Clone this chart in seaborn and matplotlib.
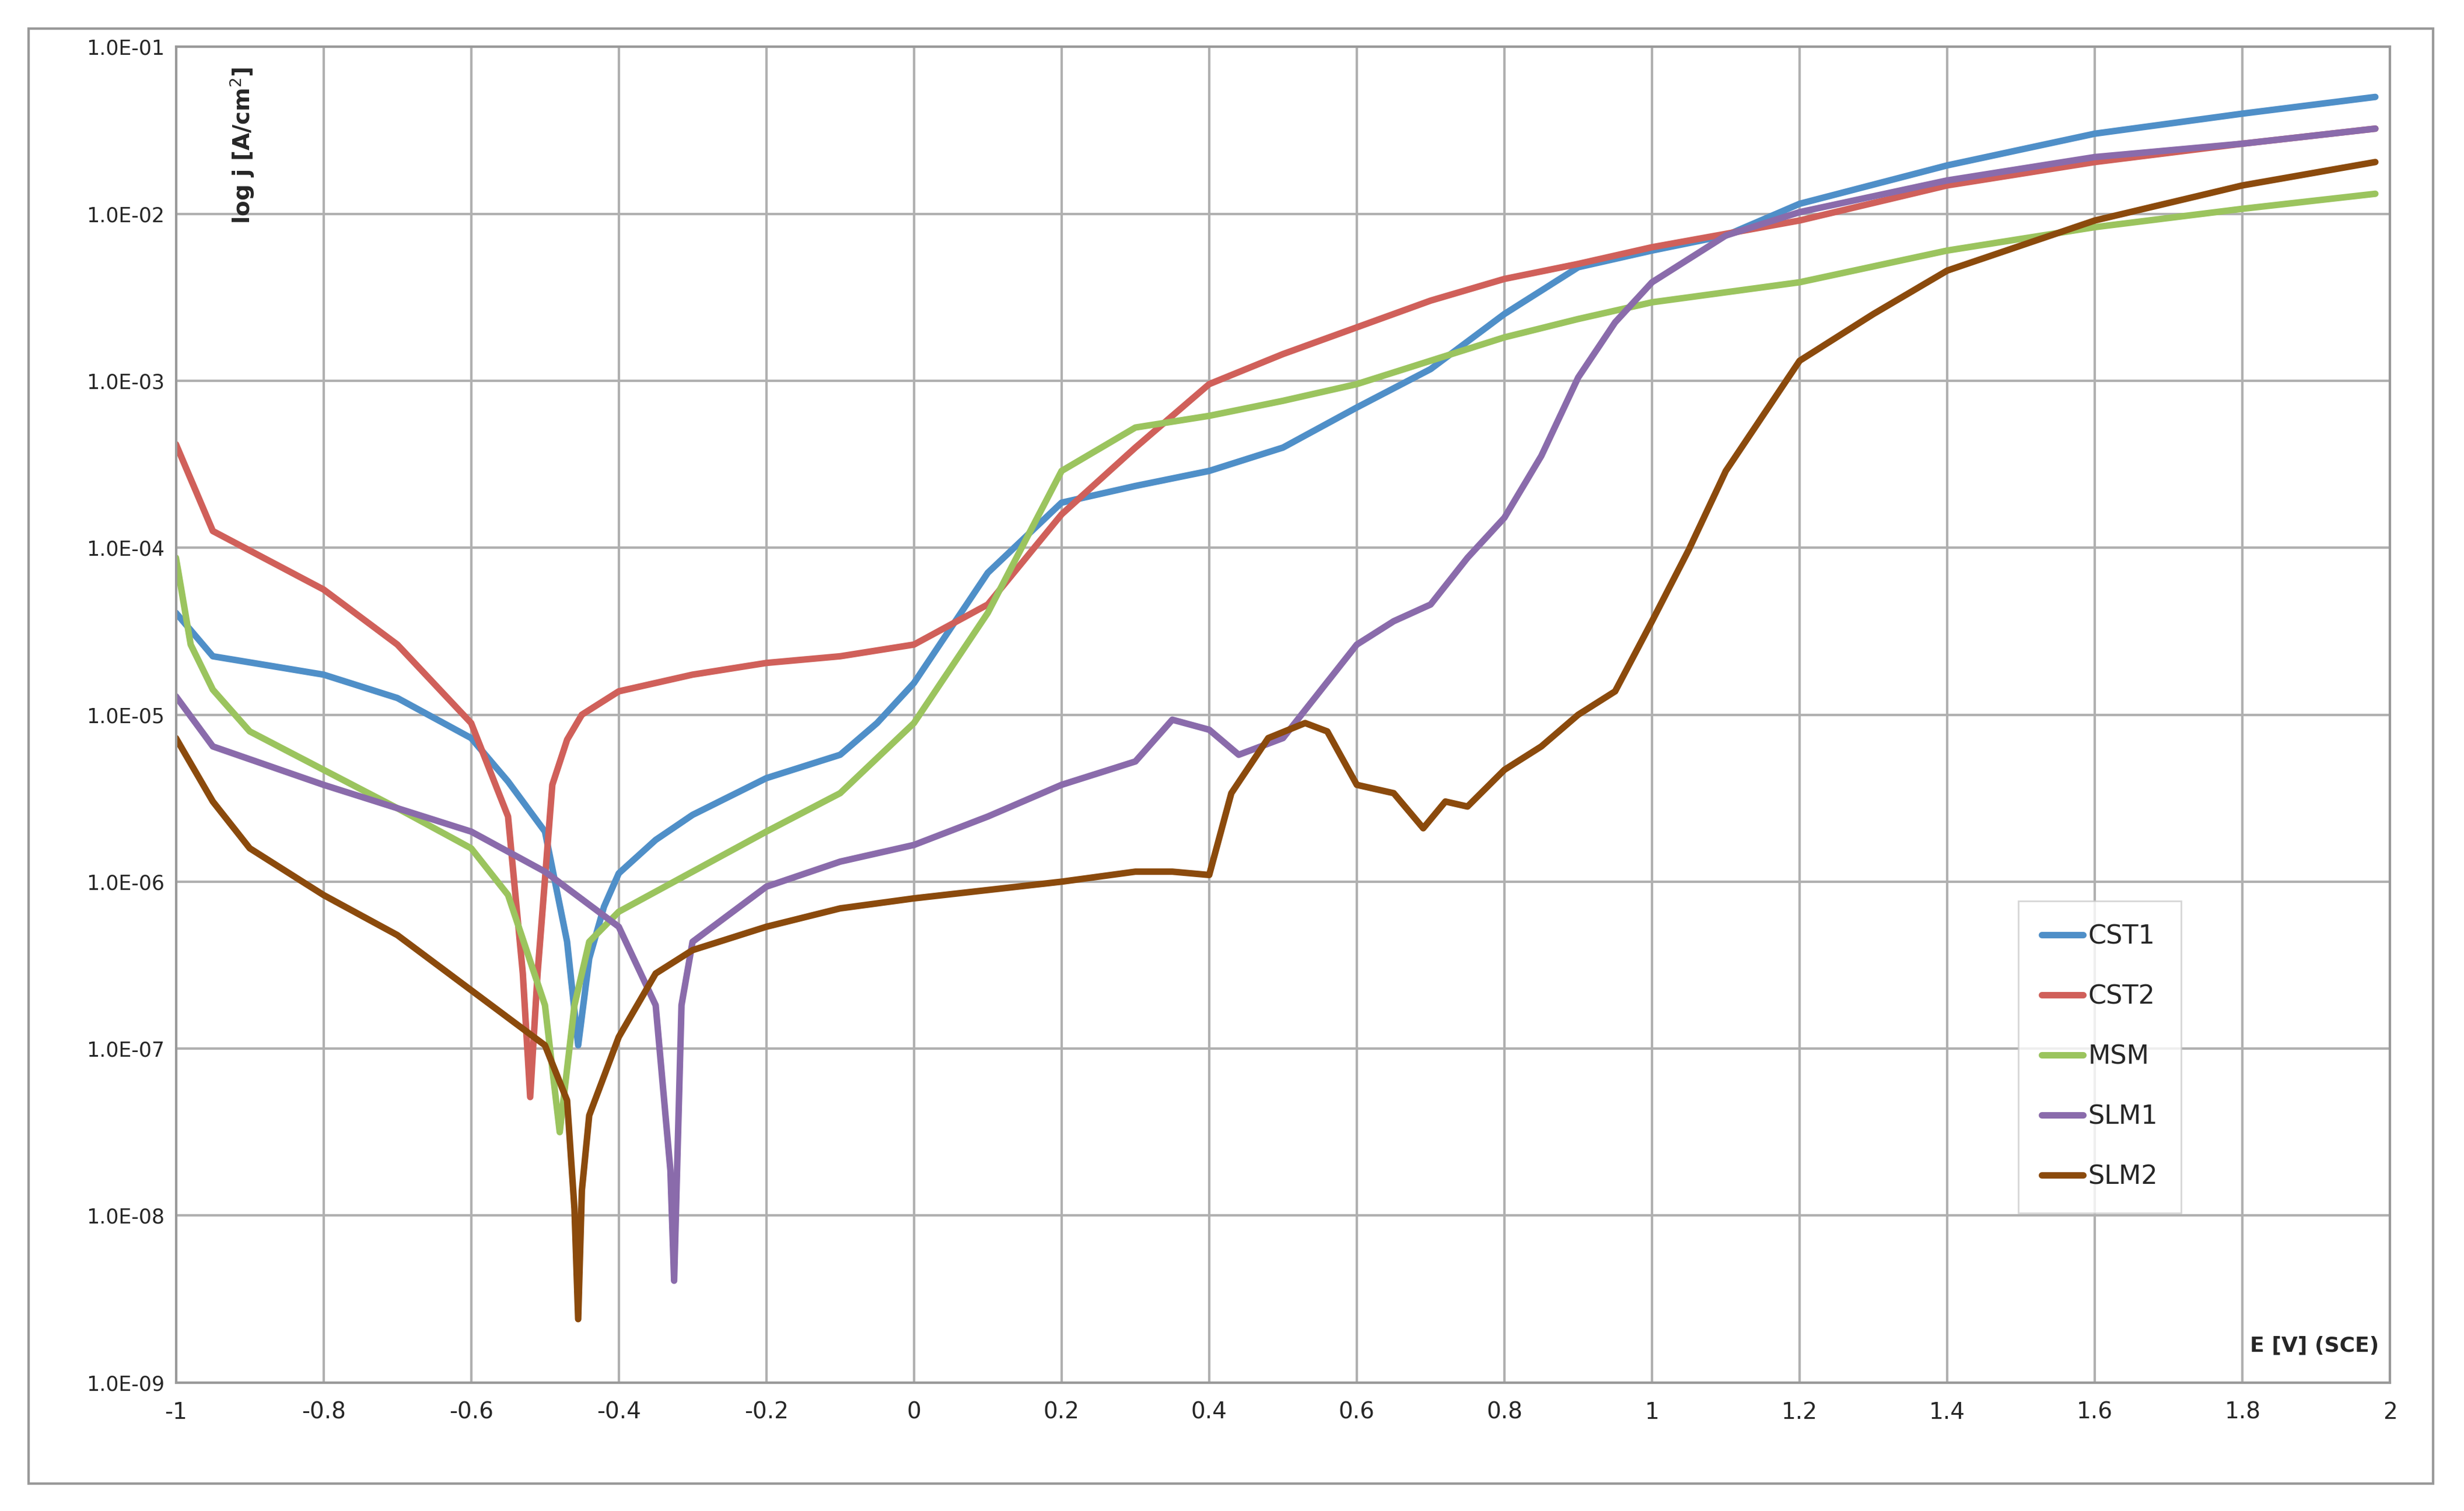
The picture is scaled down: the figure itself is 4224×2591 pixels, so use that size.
import matplotlib
matplotlib.use("Agg")
import matplotlib.pyplot as plt
import seaborn as sns
import numpy as np
import pandas as pd
from matplotlib.ticker import FixedLocator, FuncFormatter
from matplotlib.patches import Rectangle

cst1_E = [-1,-0.95,-0.8,-0.7,-0.6,-0.55,-0.5,-0.47,-0.455,-0.44,-0.42,-0.4,-0.35,-0.3,-0.2,-0.1,-0.05,0,0.1,0.2,0.3,0.4,0.5,0.6,0.7,0.8,0.9,1.0,1.1,1.2,1.4,1.6,1.8,1.98]
cst1_L = [-4.39,-4.65,-4.76,-4.9,-5.14,-5.4,-5.7,-6.36,-6.98,-6.46,-6.15,-5.95,-5.75,-5.6,-5.38,-5.24,-5.05,-4.81,-4.15,-3.73,-3.63,-3.54,-3.4,-3.16,-2.93,-2.6,-2.32,-2.22,-2.13,-1.94,-1.71,-1.52,-1.4,-1.3]
cst2_E = [-1,-0.95,-0.8,-0.7,-0.6,-0.55,-0.53,-0.52,-0.51,-0.49,-0.47,-0.45,-0.4,-0.3,-0.2,-0.1,0,0.1,0.2,0.3,0.4,0.5,0.6,0.7,0.8,0.9,1.0,1.2,1.4,1.6,1.8,1.98]
cst2_L = [-3.38,-3.9,-4.25,-4.58,-5.05,-5.61,-6.55,-7.29,-6.55,-5.42,-5.15,-5.0,-4.86,-4.76,-4.69,-4.65,-4.58,-4.34,-3.8,-3.4,-3.02,-2.84,-2.68,-2.52,-2.39,-2.3,-2.2,-2.04,-1.83,-1.69,-1.58,-1.49]
msm_E = [-1,-0.98,-0.95,-0.9,-0.8,-0.7,-0.6,-0.55,-0.5,-0.48,-0.46,-0.44,-0.4,-0.3,-0.2,-0.1,0,0.1,0.2,0.3,0.4,0.5,0.6,0.7,0.8,0.9,1.0,1.2,1.4,1.6,1.8,1.98]
msm_L = [-4.06,-4.58,-4.85,-5.1,-5.33,-5.56,-5.8,-6.08,-6.74,-7.5,-6.74,-6.36,-6.18,-5.94,-5.7,-5.47,-5.05,-4.39,-3.54,-3.28,-3.21,-3.12,-3.02,-2.88,-2.74,-2.63,-2.53,-2.41,-2.22,-2.08,-1.97,-1.88]
slm1_E = [-1,-0.95,-0.8,-0.6,-0.5,-0.4,-0.35,-0.33,-0.325,-0.315,-0.3,-0.2,-0.1,0,0.1,0.2,0.3,0.35,0.4,0.44,0.5,0.55,0.6,0.65,0.7,0.75,0.8,0.85,0.9,0.95,1.0,1.1,1.2,1.4,1.6,1.8,1.98]
slm1_L = [-4.89,-5.19,-5.42,-5.7,-5.94,-6.27,-6.74,-7.73,-8.39,-6.74,-6.36,-6.03,-5.88,-5.78,-5.61,-5.42,-5.28,-5.03,-5.09,-5.24,-5.14,-4.86,-4.58,-4.44,-4.34,-4.06,-3.82,-3.45,-2.98,-2.65,-2.41,-2.13,-1.99,-1.8,-1.66,-1.58,-1.49]
slm2_E = [-1,-0.95,-0.9,-0.8,-0.7,-0.6,-0.5,-0.47,-0.46,-0.455,-0.45,-0.44,-0.4,-0.35,-0.3,-0.2,-0.1,0,0.1,0.2,0.3,0.35,0.4,0.43,0.48,0.53,0.56,0.6,0.65,0.69,0.72,0.75,0.8,0.85,0.9,0.95,1.0,1.05,1.1,1.2,1.3,1.4,1.6,1.8,1.98]
slm2_L = [-5.14,-5.52,-5.8,-6.08,-6.32,-6.65,-6.98,-7.31,-7.96,-8.62,-7.85,-7.4,-6.93,-6.55,-6.41,-6.27,-6.16,-6.1,-6.05,-6.0,-5.94,-5.94,-5.96,-5.47,-5.14,-5.05,-5.1,-5.42,-5.47,-5.68,-5.52,-5.55,-5.33,-5.19,-5.0,-4.86,-4.44,-4.01,-3.54,-2.88,-2.6,-2.34,-2.04,-1.83,-1.69]

series = [("CST1", cst1_E, cst1_L, "#4f8fc8"),
          ("CST2", cst2_E, cst2_L, "#d0605a"),
          ("MSM", msm_E, msm_L, "#9bc45e"),
          ("SLM1", slm1_E, slm1_L, "#8a6bab"),
          ("SLM2", slm2_E, slm2_L, "#8b4a0c")]

sns.set_style("white")
plt.rcParams['font.family'] = ['DejaVu Sans']
fig = plt.figure(figsize=(21.12, 12.955), dpi=200)
ax = fig.add_axes([0.0714, 0.085, 0.8986, 0.884])
for name, E, L, c in series:
    df = pd.DataFrame({"E": E, "j": 10.0 ** np.array(L)})
    sns.lineplot(data=df, x="E", y="j", ax=ax, color=c, lw=4, label=name, sort=False)
ax.set_yscale("log")
ax.set_xlim(-1, 2)
ax.set_ylim(1e-9, 1e-1)
ax.xaxis.set_major_locator(FixedLocator(np.round(np.arange(-1, 2.01, 0.2), 1)))
ax.xaxis.set_major_formatter(FuncFormatter(lambda v, p: "0" if abs(v) < 1e-9 else f"{v:g}"))
ax.yaxis.set_major_locator(FixedLocator([10.0**k for k in range(-9, 0)]))
ax.yaxis.set_minor_locator(FixedLocator([]))
ax.yaxis.set_major_formatter(FuncFormatter(lambda v, p: f"1.0E-{-int(round(np.log10(v))):02d}"))
ax.grid(True, color="#b0b0b0", lw=1.5)
for s in ax.spines.values():
    s.set_color("#999999"); s.set_linewidth(1.5)
ax.tick_params(axis="x", labelsize=14, pad=8)
ax.tick_params(axis="y", labelsize=12.5)
ax.set_xlabel(""); ax.set_ylabel("")
ax.text(0.03, 0.985, "log j [A/cm$^2$]", transform=ax.transAxes, rotation=90,
        ha="center", va="top", fontsize=14, fontweight="bold")
ax.text(0.995, 0.02, "E [V] (SCE)", transform=ax.transAxes, ha="right", va="bottom",
        fontsize=13, fontweight="bold")
leg = ax.legend(loc="lower left", bbox_to_anchor=(0.832, 0.127), fontsize=16,
                frameon=True, fancybox=False, labelspacing=1.35, handlelength=1.6,
                handletextpad=0.2, borderpad=0.9, borderaxespad=0)
leg.get_frame().set_edgecolor("#cccccc")
fig.patches.append(Rectangle((0.0115, 0.018), 0.976, 0.963, transform=fig.transFigure,
                             fill=False, edgecolor="#999999", lw=1.5))
fig.savefig("out.png", dpi=200, facecolor="white")
